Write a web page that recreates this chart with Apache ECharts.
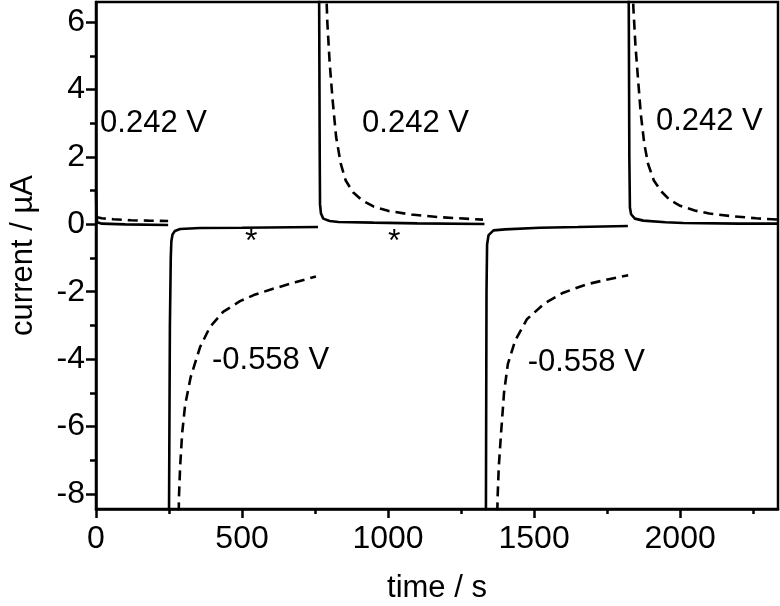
<!DOCTYPE html>
<html>
<head>
<meta charset="utf-8">
<script src="https://cdn.jsdelivr.net/npm/echarts@6/dist/echarts.min.js"></script>
<style>html,body{margin:0;padding:0;background:#fff}#chart{width:780px;height:606px}</style>
</head>
<body>
<div id="chart"></div>
<script>
// ---- data (time in s, current in µA); null separates potential steps ----
const solidTime = [
  0, 1.5, 4, 20, 100, 247, null,
  248, 250, 253, 256, 258, 262, 270, 288, 356, 500, 760, null,
  762, 764, 766, 767, 770, 778, 800, 830, 950, 1100, 1330, null,
  1333, 1335, 1337, 1339, 1344, 1361, 1400, 1520, 1650, 1821, null,
  1822, 1824, 1826, 1828, 1832, 1845, 1874, 1950, 2011, 2200, 2335
];
const solidCurrent = [
  1.0, 0.3, 0.06, 0.02, 0.0, -0.02, null,
  -40, -8.5, -3, -1.0, -0.5, -0.3, -0.2, -0.14, -0.11, -0.1, -0.08, null,
  40, 6.6, 2, 0.6, 0.33, 0.17, 0.1, 0.07, 0.05, 0.03, 0.01, null,
  -40, -8.5, -2, -0.6, -0.32, -0.18, -0.15, -0.1, -0.08, -0.05, null,
  40, 6.6, 2, 0.5, 0.3, 0.17, 0.11, 0.06, 0.04, 0.02, 0.02
];
const dashedTime = [
  0, 20, 60, 120, 180, 247, null,
  282, 284, 288, 295, 305, 324, 356, 390, 435, 493, 540, 596, 682, 753, null,
  786, 792, 800, 810, 822, 838, 855, 880, 910, 950, 1000, 1080, 1180, 1325, null,
  1372, 1375, 1379, 1386, 1397, 1410, 1435, 1475, 1535, 1600, 1680, 1760, 1822, null,
  1835, 1840, 1847, 1855, 1865, 1877, 1890, 1910, 1935, 1965, 2000, 2050, 2100, 2180, 2260, 2335
];
const dashedCurrent = [
  0.22, 0.18, 0.15, 0.12, 0.11, 0.1, null,
  -9.5, -8.1, -7.2, -6.2, -5.37, -4.54, -3.65, -3.05, -2.6, -2.28, -2.1, -1.94, -1.72, -1.55, null,
  7.5, 6.0, 4.8, 3.7, 2.6, 1.8, 1.3, 0.95, 0.72, 0.53, 0.4, 0.29, 0.21, 0.14, null,
  -9.5, -8.1, -7.2, -6.3, -5.0, -4.15, -3.45, -2.82, -2.35, -2.03, -1.78, -1.62, -1.51, null,
  7.5, 6.4, 5.3, 4.4, 3.3, 2.4, 1.8, 1.3, 0.98, 0.72, 0.55, 0.41, 0.32, 0.24, 0.18, 0.14
];
const annotationTexts = ['0.242 V', '0.242 V', '0.242 V', '-0.558 V', '-0.558 V', '*', '*'];
const annotationTime = [14, 911, 1917, 397, 1478, 510, 1000];
const annotationCurrent = [3.0, 3.0, 3.05, -4.05, -4.1, -0.54, -0.54];

const xMajorTicks = [0, 500, 1000, 1500, 2000];
const xMinorTicks = [250, 750, 1250, 1750, 2250];
const yMajorTicks = [-8, -6, -4, -2, 0, 2, 4, 6];
const yMinorTicks = [-7, -5, -3, -1, 1, 3, 5];
const xRange = [0, 2335];
const yRange = [-8.45, 6.6];
const xName = 'time / s';
const yName = 'current / µA';

// ---- build ----
function pairs(ts, vs) {
  return ts.map((t, i) => (t === null || vs[i] === null) ? ['-', '-'] : [t, vs[i]]);
}
const FONT = 'Liberation Sans, Arial, Helvetica, sans-serif';
const chart = echarts.init(document.getElementById('chart'), null, {renderer: 'canvas'});

const axisBase = {
  type: 'value',
  splitLine: {show: false},
  gridIndex: 0
};
const plain = v => String(v);
chart.setOption({
  animation: false,
  backgroundColor: '#fff',
  grid: {left: 96, right: 2, top: 2, bottom: 97, containLabel: false, outerBoundsMode: 'none',
    show: true, borderColor: '#000', borderWidth: 2.5, backgroundColor: '#fff'},
  xAxis: [
    Object.assign({}, axisBase, {
      position: 'bottom', min: xRange[0], max: xRange[1],
      name: xName, nameLocation: 'middle', nameGap: 64,
      nameTextStyle: {fontSize: 31, fontFamily: FONT, color: '#000'},
      axisLine: {show: true, onZero: false, lineStyle: {color: '#000', width: 2.5}},
      axisTick: {show: true, customValues: xMajorTicks, length: 9, lineStyle: {color: '#000', width: 2.5}},
      axisLabel: {show: true, customValues: xMajorTicks, formatter: plain, margin: 14, fontSize: 32, fontFamily: FONT, color: '#000'}
    }),
    Object.assign({}, axisBase, {
      position: 'bottom', offset: 0, min: xRange[0], max: xRange[1],
      axisLine: {show: false, onZero: false},
      axisTick: {show: true, customValues: xMinorTicks, length: 5, lineStyle: {color: '#000', width: 2.5}},
      axisLabel: {show: false}
    })
  ],
  yAxis: [
    Object.assign({}, axisBase, {
      position: 'left', min: yRange[0], max: yRange[1],
      name: yName, nameLocation: 'middle', nameGap: 57,
      nameTextStyle: {fontSize: 31, fontFamily: FONT, color: '#000'},
      axisLine: {show: true, onZero: false, lineStyle: {color: '#000', width: 2.5}},
      axisTick: {show: true, customValues: yMajorTicks, length: 10, lineStyle: {color: '#000', width: 2.5}},
      axisLabel: {show: true, customValues: yMajorTicks, formatter: plain, margin: 11, fontSize: 32, fontFamily: FONT, color: '#000'}
    }),
    Object.assign({}, axisBase, {
      position: 'left', offset: 0, min: yRange[0], max: yRange[1],
      axisLine: {show: false, onZero: false},
      axisTick: {show: true, customValues: yMinorTicks, length: 6, lineStyle: {color: '#000', width: 2.5}},
      axisLabel: {show: false}
    })
  ],
  series: [
    {
      type: 'line', xAxisIndex: 0, yAxisIndex: 0, data: pairs(solidTime, solidCurrent),
      showSymbol: false, symbol: 'none', connectNulls: false, clip: true,
      lineStyle: {color: '#000', width: 2.6, type: 'solid'}
    },
    {
      type: 'line', xAxisIndex: 0, yAxisIndex: 0, data: pairs(dashedTime, dashedCurrent),
      showSymbol: false, symbol: 'none', connectNulls: false, clip: true,
      lineStyle: {color: '#000', width: 2.6, type: [10, 6]}
    },
    {
      type: 'scatter', xAxisIndex: 0, yAxisIndex: 0, symbolSize: 0, silent: true,
      itemStyle: {opacity: 1, color: '#000'},
      data: annotationTexts.map((s, i) => ({name: s, value: [annotationTime[i], annotationCurrent[i]],
        label: {fontSize: s === '*' ? 32 : 31}})),
      label: {show: true, position: 'right', distance: 0, formatter: p => p.name,
        fontFamily: FONT, color: '#000', opacity: 1, align: 'left', verticalAlign: 'middle'}
    }
  ]
});
</script>
</body>
</html>
